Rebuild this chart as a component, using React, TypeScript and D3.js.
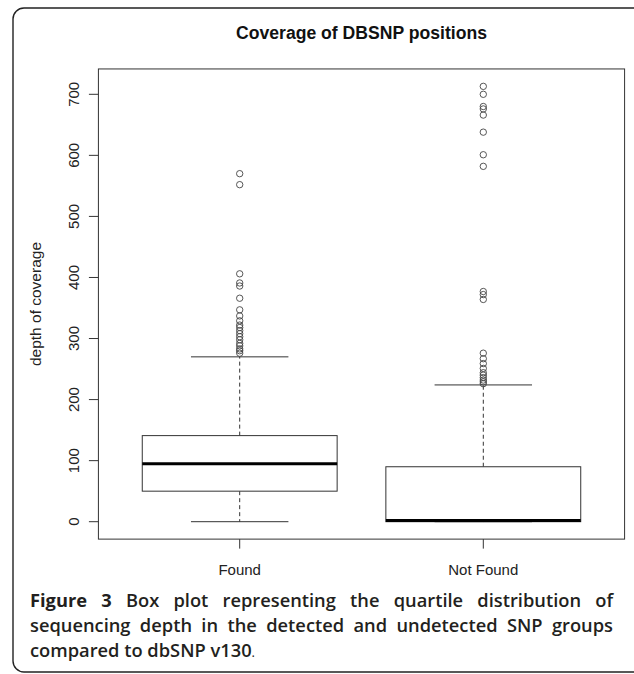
import React, { useEffect, useRef } from "react";
import * as d3 from "d3";

const categories = ["Found", "Not Found"];
const whiskerLow = [0, 0];
const q1 = [50, 0];
const medians = [95, 2];
const q3 = [141, 90];
const whiskerHigh = [270, 224];
const outliersFound = [570, 552, 406, 391, 386, 366, 347, 337, 329, 322, 318, 313, 308, 303, 298, 292, 288, 283, 280, 276];
const outliersNotFound = [713, 700, 680, 676, 666, 638, 601, 582, 377, 372, 364, 276, 267, 259, 251, 244, 240, 236, 232, 229, 226];
const yTicks = [0, 100, 200, 300, 400, 500, 600, 700];
const title = "Coverage of DBSNP positions";
const yLabel = "depth of coverage";
const captionLines = [
  { bold: "Figure 3", text: " Box plot representing the quartile distribution of", justify: true },
  { bold: "", text: "sequencing depth in the detected and undetected SNP groups", justify: true },
  { bold: "", text: "compared to dbSNP v130", justify: false },
];

const W = 634;
const H = 674;
const INK = "#333";
const AXIS_FONT = "Liberation Sans, Arial, Helvetica, sans-serif";

export default function App() {
  const captionRefs = useRef<(SVGTextElement | null)[]>([]);

  const y = d3.scaleLinear().domain([0, 700]).range([521.7, 94.3]);
  const x = d3.scaleLinear().domain([1, 2]).range([239.7, 483.3]);
  const dataMin = 0;
  const dataMax = d3.max([...outliersFound, ...outliersNotFound]) as number;
  const pad = (dataMax - dataMin) * 0.04;
  const plotTop = y(dataMax + pad);
  const plotBottom = y(dataMin - pad);
  const plotLeft = x(0.42);
  const plotRight = x(2.58);
  const boxW = x(1.4) - x(1);
  const capW = x(1.2) - x(1);
  const outliers = [outliersFound, outliersNotFound];

  const capLeft = 30;
  const capRight = 613;

  useEffect(() => {
    captionRefs.current.forEach((el, i) => {
      if (!el || !captionLines[i].justify) return;
      el.setAttribute("word-spacing", "0");
      const natural = el.getComputedTextLength();
      const full = captionLines[i].bold + captionLines[i].text;
      const spaces = (full.match(/ /g) || []).length;
      const extra = (capRight - capLeft - natural) / spaces;
      el.setAttribute("word-spacing", String(extra));
    });
  }, []);

  return (
    <svg width={W} height={H} style={{ display: "block", position: "absolute", left: 0, top: 0 }}>
      <rect x={0} y={0} width={W} height={H} fill="#fff" />
      <rect x={13} y={8} width={660} height={664} rx={11} fill="none" stroke="#222" strokeWidth={1.4} />

      <text
        x={(plotLeft + plotRight) / 2}
        y={39}
        textAnchor="middle"
        fontFamily={AXIS_FONT}
        fontWeight="bold"
        fontSize={17.6}
        fill="#111"
      >
        {title}
      </text>

      {/* plot frame */}
      <rect x={plotLeft} y={plotTop} width={plotRight - plotLeft} height={plotBottom - plotTop} fill="none" stroke={INK} strokeWidth={1} />

      {/* y axis */}
      {yTicks.map((t) => (
        <g key={t}>
          <line x1={plotLeft - 9.5} x2={plotLeft} y1={y(t)} y2={y(t)} stroke={INK} strokeWidth={1} />
          <text
            transform={`translate(${plotLeft - 19.4},${y(t)}) rotate(-90)`}
            textAnchor="middle"
            fontFamily={AXIS_FONT}
            fontSize={15}
            fill="#222"
          >
            {t}
          </text>
        </g>
      ))}
      <text
        transform={`translate(41,${(plotTop + plotBottom) / 2}) rotate(-90)`}
        textAnchor="middle"
        fontFamily={AXIS_FONT}
        fontSize={15.5}
        fill="#222"
      >
        {yLabel}
      </text>

      {/* x axis */}
      {categories.map((c, i) => (
        <g key={c}>
          <line x1={x(i + 1)} x2={x(i + 1)} y1={plotBottom} y2={plotBottom + 9.5} stroke={INK} strokeWidth={1} />
          <text
            x={x(i + 1)}
            y={575}
            textAnchor="middle"
            fontFamily={AXIS_FONT}
            fontSize={15}
            fill="#222"
          >
            {c}
          </text>
        </g>
      ))}

      {/* boxes */}
      {categories.map((c, i) => {
        const cx = x(i + 1);
        return (
          <g key={"b" + c}>
            <line x1={cx} x2={cx} y1={y(q3[i])} y2={y(whiskerHigh[i])} stroke={INK} strokeDasharray="4,3" />
            <line x1={cx} x2={cx} y1={y(q1[i])} y2={y(whiskerLow[i])} stroke={INK} strokeDasharray="4,3" />
            <line x1={cx - capW} x2={cx + capW} y1={y(whiskerHigh[i])} y2={y(whiskerHigh[i])} stroke={INK} />
            <line x1={cx - capW} x2={cx + capW} y1={y(whiskerLow[i])} y2={y(whiskerLow[i])} stroke={INK} />
            <rect x={cx - boxW} y={y(q3[i])} width={boxW * 2} height={y(q1[i]) - y(q3[i])} fill="#fff" stroke={INK} />
            <line x1={cx - boxW} x2={cx + boxW} y1={y(medians[i])} y2={y(medians[i])} stroke="#000" strokeWidth={3} />
            {outliers[i].map((v, k) => (
              <circle key={k} cx={cx} cy={y(v)} r={3.2} fill="none" stroke="#444" strokeWidth={0.9} />
            ))}
          </g>
        );
      })}

      {/* caption */}
      {captionLines.map((ln, i) => (
        <text
          key={i}
          ref={(el) => {
            captionRefs.current[i] = el;
          }}
          x={capLeft}
          y={606.5 + i * 25}
          fontFamily="Open Sans, Noto Sans, sans-serif"
          fontSize={18.3}
          fontWeight={600}
          fill="#231f20"
        >
          {ln.bold && <tspan fontWeight={700}>{ln.bold}</tspan>}
          {ln.text}
          {i === 2 && <tspan fontWeight={400} fontSize={13}>.</tspan>}
        </text>
      ))}
    </svg>
  );
}
